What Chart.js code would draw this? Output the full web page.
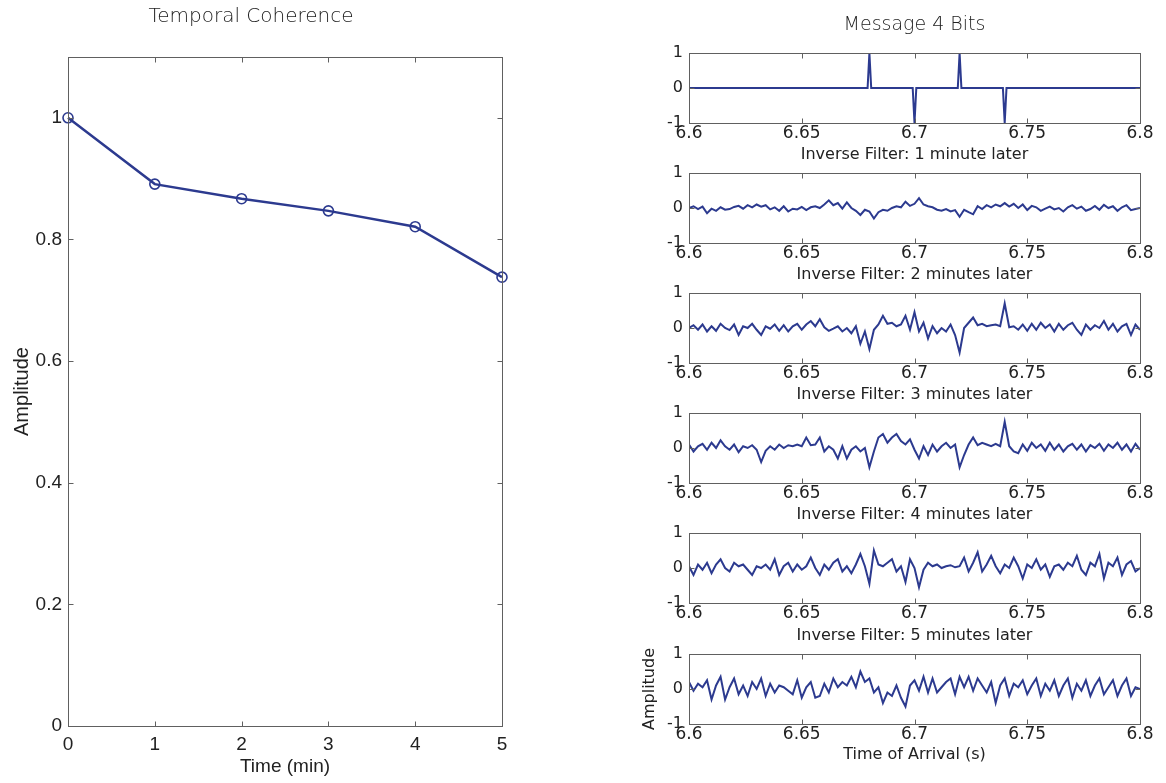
<!DOCTYPE html>
<html>
<head>
<meta charset="utf-8">
<script src="https://cdn.jsdelivr.net/npm/chart.js@4.4.1/dist/chart.umd.min.js"></script>
<style>
body { margin: 0; background: #fff; }
#page { position: relative; width: 1166px; height: 783px; overflow: hidden; }
.box { position: absolute; }
</style>
</head>
<body>
<div id="page">
	<div class="box" style="left:0;top:0;width:612px;height:783px"><canvas id="coherence"></canvas></div>
</div>
<script>
// ---- data ----
var minutes = [0, 1, 2, 3, 4, 5];
var coherence = [1.0, 0.891, 0.867, 0.847, 0.821, 0.738];
var minuteTicks = [0, 1, 2, 3, 4, 5];
var coherenceTicks = [0, 0.2, 0.4, 0.6, 0.8, 1];

// the 4 bit message (pulses)
var messageTimes  = [6.6, 6.6792, 6.68, 6.6808, 6.6992, 6.70, 6.7008, 6.7192, 6.72, 6.7208, 6.7392, 6.74, 6.7408, 6.8];
var messageValues = [0, 0, 1, 0, 0, -1, 0, 0, 1, 0, 0, -1, 0, 0];

// inverse filter outputs, one sample every 2 ms from 6.6 s
var arrivalStart = 6.6;
var arrivalStep = 0.002;
var inv1 = [
	0.00, 0.05, -0.03, 0.04, -0.15, -0.02, -0.08, 0.02, -0.05, -0.03,
	0.03, 0.06, -0.02, 0.08, 0.02, 0.10, 0.04, 0.08, -0.04, 0.02,
	-0.08, 0.05, -0.10, -0.02, -0.04, 0.03, -0.06, 0.02, 0.05, 0.00,
	0.10, 0.22, 0.08, 0.14, -0.02, 0.16, 0.00, -0.08, -0.20, -0.05,
	-0.10, -0.30, -0.12, -0.05, -0.08, 0.00, 0.05, 0.02, 0.18, 0.06,
	0.12, 0.28, 0.10, 0.05, 0.02, -0.05, -0.08, -0.03, -0.10, -0.06,
	-0.25, -0.05, -0.12, -0.18, 0.05, -0.03, 0.08, 0.02, 0.10, 0.05,
	0.14, 0.04, 0.12, 0.00, 0.10, -0.06, 0.06, 0.02, -0.08, -0.02,
	0.04, -0.04, 0.00, -0.10, 0.02, 0.08, -0.02, 0.04, -0.08, -0.03,
	0.06, -0.05, 0.09, 0.00, 0.05, -0.08, 0.02, 0.08, -0.06, -0.03, 0.00
];
var inv2 = [
	0.00, 0.08, -0.05, 0.10, -0.10, 0.05, -0.08, 0.12, 0.00, -0.06,
	0.10, -0.20, 0.05, 0.00, 0.12, -0.05, -0.20, 0.05, -0.02, 0.10,
	-0.08, 0.08, -0.10, 0.05, 0.12, -0.05, 0.10, 0.20, 0.05, 0.25,
	0.02, -0.08, -0.02, 0.05, -0.10, 0.00, -0.15, 0.05, -0.45, -0.10,
	-0.60, -0.05, 0.10, 0.35, 0.12, 0.15, 0.05, 0.10, 0.35, -0.05,
	0.45, -0.10, 0.15, -0.30, 0.05, -0.15, 0.00, -0.10, 0.10, -0.20,
	-0.70, 0.00, 0.15, 0.30, 0.08, 0.12, 0.05, 0.08, 0.10, 0.05,
	0.70, 0.02, 0.05, -0.05, 0.10, -0.08, 0.12, -0.05, 0.15, 0.00,
	0.10, -0.10, 0.12, -0.05, 0.08, 0.15, -0.05, -0.20, 0.10, -0.05,
	0.08, 0.00, 0.20, -0.05, 0.12, -0.10, 0.05, 0.12, -0.20, 0.10, -0.05
];
var inv3 = [
	0.10, -0.10, 0.05, 0.12, -0.05, 0.15, 0.00, 0.22, 0.05, -0.05,
	0.10, -0.12, 0.05, 0.00, 0.08, -0.05, -0.40, -0.08, 0.05, -0.05,
	0.10, 0.00, 0.08, 0.05, 0.10, 0.05, 0.30, 0.08, 0.10, 0.30,
	-0.10, 0.05, -0.05, -0.30, 0.05, -0.30, -0.05, 0.05, -0.10, 0.00,
	-0.55, -0.10, 0.30, 0.40, 0.15, 0.30, 0.40, 0.20, 0.10, 0.25,
	-0.05, -0.30, 0.05, -0.20, 0.10, -0.10, 0.05, 0.15, 0.00, 0.10,
	-0.55, -0.20, 0.10, 0.30, 0.08, 0.15, 0.10, 0.05, 0.12, 0.05,
	0.75, 0.05, -0.10, -0.15, 0.10, -0.08, 0.15, 0.00, 0.10, -0.08,
	0.15, -0.05, 0.10, -0.10, 0.05, 0.12, -0.05, 0.10, -0.10, 0.08,
	0.00, 0.12, -0.08, 0.10, 0.00, 0.15, -0.05, 0.10, -0.10, 0.12, -0.05
];
var inv4 = [
	0.05, -0.20, 0.10, -0.05, 0.15, -0.15, 0.10, 0.25, 0.00, -0.10,
	0.15, 0.05, 0.10, -0.05, -0.20, 0.05, 0.00, 0.10, -0.05, 0.25,
	-0.20, 0.05, 0.15, -0.10, 0.10, -0.05, 0.05, 0.30, 0.00, -0.20,
	0.10, -0.05, 0.15, 0.25, -0.10, 0.05, -0.15, 0.10, 0.40, 0.05,
	-0.45, 0.50, 0.10, 0.05, 0.15, 0.25, -0.10, 0.05, -0.40, 0.25,
	0.00, -0.55, -0.05, 0.15, 0.05, 0.10, 0.00, 0.05, 0.08, 0.02,
	0.05, 0.30, -0.10, 0.15, 0.45, -0.10, 0.10, 0.35, 0.05, -0.15,
	0.10, 0.00, 0.30, 0.05, -0.30, 0.10, 0.00, 0.25, -0.05, 0.10,
	-0.25, 0.05, 0.10, -0.05, 0.15, 0.05, 0.35, -0.05, -0.20, 0.15,
	0.05, 0.40, -0.30, 0.15, 0.05, 0.30, -0.20, 0.10, 0.20, -0.10, 0.00
];
var inv5 = [
	0.20, -0.05, 0.15, 0.05, 0.25, -0.30, 0.10, 0.35, -0.30, 0.05,
	0.30, -0.15, 0.10, -0.20, 0.20, 0.00, 0.30, -0.20, 0.15, -0.10,
	0.10, 0.05, -0.05, -0.15, 0.25, -0.25, 0.05, 0.20, -0.25, -0.20,
	0.15, -0.10, 0.30, 0.05, 0.20, 0.10, 0.35, 0.05, 0.50, 0.20,
	0.30, -0.10, 0.05, -0.40, -0.10, -0.20, 0.10, -0.25, -0.50, 0.10,
	0.25, -0.05, 0.35, -0.10, 0.30, -0.10, 0.05, 0.20, 0.30, -0.15,
	0.35, 0.05, 0.35, -0.05, 0.30, 0.10, -0.10, 0.20, -0.40, 0.10,
	0.30, -0.20, 0.15, 0.05, 0.25, -0.15, 0.10, 0.30, -0.20, 0.15,
	-0.05, 0.25, -0.20, 0.10, 0.30, -0.25, 0.15, -0.05, 0.25, -0.20,
	0.10, 0.30, -0.15, 0.05, 0.25, -0.20, 0.10, 0.30, -0.20, 0.05, 0.00
];
var arrivalTicks = [6.6, 6.65, 6.7, 6.75, 6.8];
var amplitudeTicks = [-1, 0, 1];
var panelTitles = ['Message 4 Bits', 'Inverse Filter: 1 minute later', 'Inverse Filter: 2 minutes later',
	'Inverse Filter: 3 minutes later', 'Inverse Filter: 4 minutes later', 'Inverse Filter: 5 minutes later'];

// ---- look ----
var lineColour = '#2c3a8f';
var axisColour = '#606060';
var textColour = '#222';
var panelCentres = [88, 208, 328, 448, 568, 689]; // y centre of each small panel

Chart.defaults.animation = false;
Chart.defaults.devicePixelRatio = 1;

// MATLAB style box with inward ticks on all four sides
var boxPlugin = {
	id: 'matlabBox',
	afterDatasetsDraw: function (chart) {
		var a = chart.chartArea, ctx = chart.ctx;
		var xs = chart.scales.x, ys = chart.scales.y;
		var len = 5;
		var l = Math.round(a.left) + 0.5, r = Math.round(a.right) + 0.5;
		var t = Math.round(a.top) + 0.5, b = Math.round(a.bottom) + 0.5;
		ctx.save();
		ctx.strokeStyle = axisColour;
		ctx.lineWidth = 1;
		ctx.beginPath();
		xs.ticks.forEach(function (tk) {
			var px = Math.round(xs.getPixelForValue(tk.value)) + 0.5;
			ctx.moveTo(px, b); ctx.lineTo(px, b - len);
			ctx.moveTo(px, t); ctx.lineTo(px, t + len);
		});
		ys.ticks.forEach(function (tk) {
			var py = Math.round(ys.getPixelForValue(tk.value)) + 0.5;
			ctx.moveTo(l, py); ctx.lineTo(l + len, py);
			ctx.moveTo(r, py); ctx.lineTo(r - len, py);
		});
		ctx.stroke();
		ctx.strokeRect(l, t, r - l, b - t);
		ctx.restore();
	}
};

function fixedTicks(list) {
	return function (scale) {
		scale.ticks = list.map(function (v) { return { value: v }; });
	};
}

function tickText(v) {
	return String(+v.toFixed(2));
}

var noGrid = { display: false, drawTicks: false };

// left chart
new Chart(document.getElementById('coherence'), {
	type: 'line',
	data: {
		datasets: [{
			data: minutes.map(function (m, i) { return { x: m, y: coherence[i] }; }),
			borderColor: lineColour,
			borderWidth: 2.5,
			pointRadius: 5,
			pointBorderWidth: 1.6,
			pointBorderColor: lineColour,
			pointBackgroundColor: 'rgba(0,0,0,0)',
			tension: 0,
			clip: false
		}]
	},
	options: {
		responsive: true,
		maintainAspectRatio: false,
		layout: { padding: { left: 0, right: 110, top: 0, bottom: 0 } },
		plugins: {
			legend: { display: false },
			tooltip: { enabled: false },
			title: {
				display: true,
				text: 'Temporal Coherence',
				color: '#222',
				font: { family: 'DejaVu Sans', size: 20, weight: '300' },
				padding: { top: 5, bottom: 28 }
			}
		},
		scales: {
			x: {
				type: 'linear', min: 0, max: 5,
				afterBuildTicks: fixedTicks(minuteTicks),
				afterFit: function (s) { s.height = 57; },
				grid: noGrid, border: { display: false },
				ticks: { padding: 7, color: textColour, font: { family: 'Liberation Sans', size: 19 }, callback: tickText, maxRotation: 0 },
				title: { display: true, text: 'Time (min)', color: textColour, font: { family: 'Liberation Sans', size: 19 }, padding: { top: 0, bottom: 5 } }
			},
			y: {
				min: 0, max: 1.1,
				afterBuildTicks: fixedTicks(coherenceTicks),
				afterFit: function (s) { s.width = 68; },
				grid: noGrid, border: { display: false },
				ticks: { padding: 6, color: textColour, font: { family: 'Liberation Sans', size: 19 }, callback: tickText },
				title: { display: true, text: 'Amplitude', color: textColour, font: { family: 'Liberation Sans', size: 20 }, padding: { top: 10, bottom: 0 } }
			}
		}
	},
	plugins: [boxPlugin]
});

// right column of small panels
var page = document.getElementById('page');
var panelSeries = [null, inv1, inv2, inv3, inv4, inv5];

panelSeries.forEach(function (series, k) {
	var holder = document.createElement('div');
	holder.className = 'box';
	holder.style.left = '620px';
	holder.style.top = (panelCentres[k] - 80) + 'px';
	holder.style.width = '546px';
	holder.style.height = '160px';
	var canvas = document.createElement('canvas');
	holder.appendChild(canvas);
	page.appendChild(holder);

	var points;
	if (series === null) {
		points = messageTimes.map(function (t, i) { return { x: t, y: messageValues[i] }; });
	} else {
		points = series.map(function (v, i) { return { x: arrivalStart + i * arrivalStep, y: v }; });
	}
	var isFirst = k === 0, isLast = k === panelSeries.length - 1;

	new Chart(canvas, {
		type: 'line',
		data: {
			datasets: [{
				data: points,
				borderColor: lineColour,
				borderWidth: 2,
				pointRadius: 0,
				tension: 0
			}]
		},
		options: {
			responsive: true,
			maintainAspectRatio: false,
			layout: { padding: { left: 0, right: 26, top: 0, bottom: 0 } },
			plugins: {
				legend: { display: false },
				tooltip: { enabled: false },
				title: isFirst ? {
					display: true, text: panelTitles[k], fullSize: false, color: '#222',
					font: { family: 'DejaVu Sans', size: 19, weight: '300' },
					padding: { top: 5.6, bottom: 16.6 }
				} : {
					display: true, text: panelTitles[k], fullSize: false, color: textColour,
					font: { family: 'DejaVu Sans', size: 16, weight: 'normal' },
					padding: { top: 17.4, bottom: 8.4 }
				}
			},
			scales: {
				x: {
					type: 'linear', min: 6.6, max: 6.8,
					afterBuildTicks: fixedTicks(arrivalTicks),
					afterFit: function (s) { s.height = 45; },
					grid: noGrid, border: { display: false },
					ticks: { padding: 0, color: textColour, font: { family: 'DejaVu Sans', size: 17 }, callback: tickText, maxRotation: 0 },
					title: { display: isLast, text: 'Time of Arrival (s)', color: textColour, font: { family: 'DejaVu Sans', size: 16 }, padding: { top: 0, bottom: 5 } }
				},
				y: {
					min: -1, max: 1,
					afterBuildTicks: fixedTicks(amplitudeTicks),
					afterFit: function (s) { s.width = 69; },
					grid: noGrid, border: { display: false },
					ticks: { padding: 6, color: textColour, font: { family: 'DejaVu Sans', size: 16 }, callback: tickText },
					title: { display: isLast, text: 'Amplitude', color: textColour, font: { family: 'DejaVu Sans', size: 16 }, padding: { top: 20, bottom: 0 } }
				}
			}
		},
		plugins: [boxPlugin]
	});
});
</script>
</body>
</html>
